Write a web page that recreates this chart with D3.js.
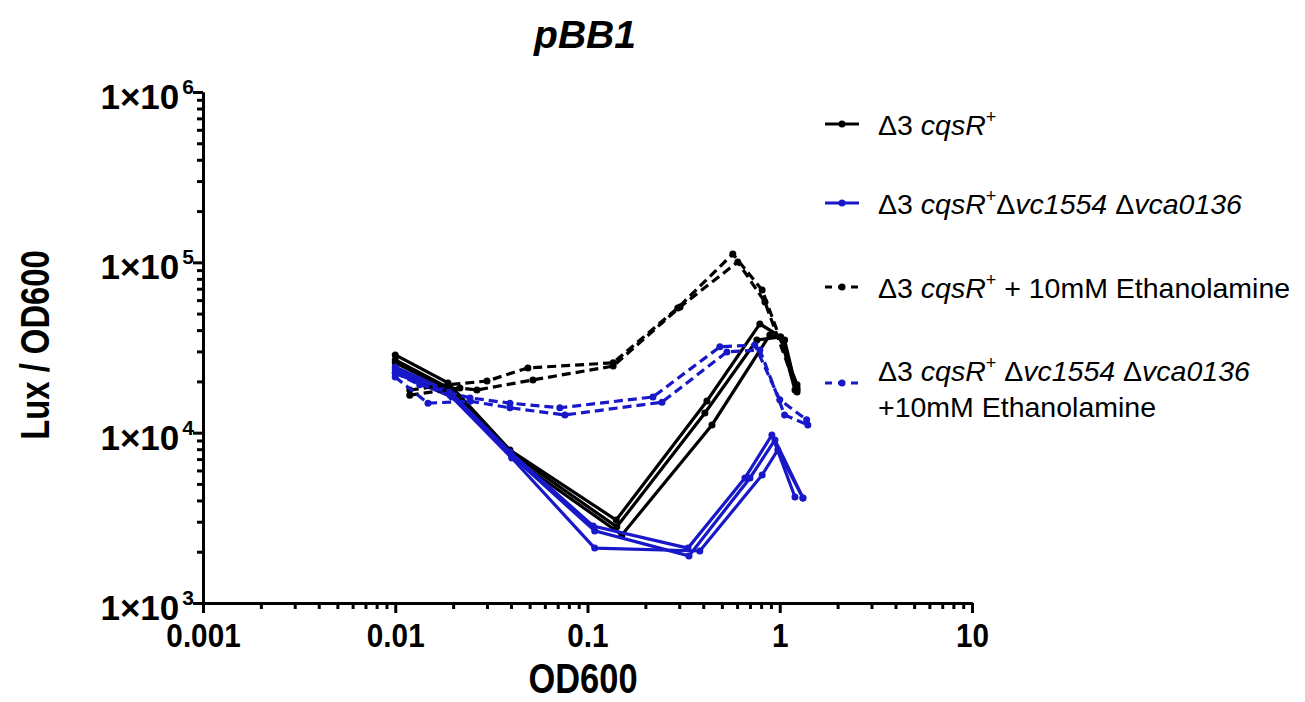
<!DOCTYPE html>
<html>
<head>
<meta charset="utf-8">
<title>pBB1</title>
<script src="https://cdn.jsdelivr.net/npm/d3@7"></script>
<style>
body { margin: 0; background: #fff; }
svg text { font-family: "Liberation Sans", Arial, sans-serif; fill: #000; }
</style>
</head>
<body>
<svg id="chart" width="1305" height="702"></svg>
<script>
// OD600 vs Lux/OD600, one array per replicate
const black1 = [[0.01, 28600], [0.0188, 19600], [0.0395, 7910], [0.141, 3070], [0.418, 15350], [0.788, 43500], [1.01, 36500], [1.23, 18300]];
const black2 = [[0.01, 26700], [0.0186, 18500], [0.0395, 7700], [0.142, 2800], [0.408, 13050], [0.76, 35000], [1.01, 36500], [1.2, 17800]];
const black3 = [[0.01, 25700], [0.0193, 17800], [0.0404, 7200], [0.151, 2510], [0.444, 11100], [0.888, 37500], [1.06, 35000], [1.23, 17300]];

const blue1 = [[0.01, 24300], [0.0193, 17300], [0.0395, 7700], [0.107, 2830], [0.333, 2100], [0.659, 5420], [0.91, 9690], [1.2, 4190]];
const blue2 = [[0.01, 23400], [0.0193, 16600], [0.0404, 7300], [0.109, 2650], [0.337, 1890], [0.70, 5420], [0.944, 9060], [1.32, 4140]];
const blue3 = [[0.01, 22400], [0.0197, 16200], [0.0404, 7100], [0.109, 2100], [0.384, 2020], [0.81, 5650], [0.977, 7910], [1.32, 4140]];

const blackEth1 = [[0.0119, 17800], [0.0188, 19100], [0.030, 20100], [0.049, 24000], [0.136, 25700], [0.295, 54000], [0.57, 112000], [0.81, 68800], [1.23, 19100]];
const blackEth2 = [[0.0119, 16600], [0.0217, 18300], [0.0266, 17800], [0.052, 20400], [0.136, 24600], [0.303, 54700], [0.605, 100500], [0.837, 58500], [1.23, 17800]];

const blueEth1 = [[0.01, 22400], [0.0134, 19100], [0.0245, 16000], [0.0395, 14900], [0.0718, 14000], [0.219, 16200], [0.488, 31900], [0.742, 32700], [1.0, 15600], [1.38, 11900]];
const blueEth2 = [[0.01, 21200], [0.0148, 14900], [0.0245, 15300], [0.0395, 14000], [0.0763, 12700], [0.244, 15100], [0.531, 29800], [0.788, 30600], [1.06, 12700], [1.40, 11100]];

const xTicks = [0.001, 0.01, 0.1, 1, 10];
const xTickLabels = ["0.001", "0.01", "0.1", "1", "10"];
const yTicks = [1e3, 1e4, 1e5, 1e6];
const yTickExp = ["3", "4", "5", "6"];

const BLUE = "#1818c8";

const groups = [
	{reps: [black1, black2, black3], color: "#000", dash: null},
	{reps: [blue1, blue2, blue3], color: BLUE, dash: null},
	{reps: [blackEth1, blackEth2], color: "#000", dash: "9,5"},
	{reps: [blueEth1, blueEth2], color: BLUE, dash: "9,5"}
];

const svg = d3.select("#chart");
const plotL = 203, plotR = 972, plotT = 92, plotB = 603;

const x = d3.scaleLog().domain([0.001, 10]).range([plotL, plotR]);
const y = d3.scaleLog().domain([1e3, 1e6]).range([plotB, plotT]);

// minor ticks (2..9 in each decade)
let minorX = [], minorY = [];
for (let d = 0.001; d < 10; d *= 10)
	for (let k = 2; k <= 9; k++) minorX.push(+(d * k).toPrecision(3));
for (let d = 1e3; d < 1e6; d *= 10)
	for (let k = 2; k <= 9; k++) minorY.push(d * k);

let styleAxis = g => {
	g.select(".domain").attr("stroke", "#000").attr("stroke-width", 3);
	g.selectAll(".tick line").attr("stroke", "#000").attr("stroke-width", 3);
};

svg.append("g")
	.attr("transform", "translate(0," + plotB + ")")
	.call(d3.axisBottom(x).tickValues(minorX).tickSize(6).tickFormat("").tickSizeOuter(0))
	.call(styleAxis);
const gx = svg.append("g")
	.attr("transform", "translate(0," + plotB + ")")
	.call(d3.axisBottom(x).tickValues(xTicks).tickSize(10).tickSizeOuter(0)
		.tickFormat((d, i) => xTickLabels[i]))
	.call(styleAxis);
gx.selectAll(".tick text")
	.attr("y", 44)
	.attr("dy", 0)
	.attr("transform", "scale(0.9,1)")
	.attr("font-size", 33)
	.attr("font-weight", "bold")
	.attr("font-family", "'Liberation Sans', Arial, sans-serif");

svg.append("g")
	.attr("transform", "translate(" + plotL + ",0)")
	.call(d3.axisLeft(y).tickValues(minorY).tickSize(6).tickFormat("").tickSizeOuter(0))
	.call(styleAxis);
svg.append("g")
	.attr("transform", "translate(" + plotL + ",0)")
	.call(d3.axisLeft(y).tickValues(yTicks).tickSize(10).tickFormat("").tickSizeOuter(0))
	.call(styleAxis);

// y labels as 1×10^n
yTicks.forEach((v, i) => {
	const t = svg.append("text")
		.attr("x", plotL - 9)
		.attr("y", y(v) + 17)
		.attr("text-anchor", "end")
		.attr("font-size", 35)
		.attr("font-weight", "bold");
	t.append("tspan").text("1\u00d710");
	t.append("tspan").attr("dx", 3).attr("dy", -15).attr("font-size", 21).text(yTickExp[i]);
});

// data
const line = d3.line().x(d => x(d[0])).y(d => y(d[1]));
const plot = svg.append("g");
groups.forEach(g => {
	g.reps.forEach(rep => {
		plot.append("path")
			.datum(rep)
			.attr("d", line)
			.attr("fill", "none")
			.attr("stroke", g.color)
			.attr("stroke-width", 3.2)
			.attr("stroke-dasharray", g.dash);
		plot.selectAll(null)
			.data(rep)
			.join("circle")
			.attr("cx", d => x(d[0]))
			.attr("cy", d => y(d[1]))
			.attr("r", 3.5)
			.attr("fill", g.color);
	});
});

// titles
svg.append("text")
	.attr("x", 585).attr("y", 48)
	.attr("text-anchor", "middle")
	.attr("font-size", 39).attr("font-weight", "bold").attr("font-style", "italic")
	.text("pBB1");
svg.append("text")
	.attr("transform", "translate(583,693) scale(0.82,1)")
	.attr("text-anchor", "middle")
	.attr("font-size", 42).attr("font-weight", "bold")
	.text("OD600");
svg.append("text")
	.attr("transform", "translate(49,345) rotate(-90) scale(0.8,1)")
	.attr("text-anchor", "middle")
	.attr("font-size", 41).attr("font-weight", "bold")
	.text("Lux / OD600");

// legend
const legendRows = [
	{color: "#000", dash: null, ly: 124, lines: [[["\u03943 ", ""], ["cqsR", "i"], ["+", "s"]]]},
	{color: BLUE, dash: null, ly: 203, lines: [[["\u03943 ", ""], ["cqsR", "i"], ["+", "s"], ["\u0394", ""], ["vc1554", "i"], [" \u0394", ""], ["vca0136", "i"]]]},
	{color: "#000", dash: "7,6", ly: 287, lines: [[["\u03943 ", ""], ["cqsR", "i"], ["+", "s"], [" + 10mM Ethanolamine", ""]]]},
	{color: BLUE, dash: "7,6", ly: 370, lines: [[["\u03943 ", ""], ["cqsR", "i"], ["+", "s"], [" \u0394", ""], ["vc1554", "i"], [" \u0394", ""], ["vca0136", "i"]], [["+10mM Ethanolamine", ""]]]}
];
const legend = svg.append("g");
legendRows.forEach(r => {
	const sy = r.lines.length > 1 ? r.ly + 13 : r.ly;
	legend.append("line")
		.attr("x1", 825).attr("x2", 859)
		.attr("y1", sy).attr("y2", sy)
		.attr("stroke", r.color).attr("stroke-width", 3)
		.attr("stroke-dasharray", r.dash);
	legend.append("circle")
		.attr("cx", 842).attr("cy", sy).attr("r", 3.5).attr("fill", r.color);
	r.lines.forEach((parts, li) => {
		const t = legend.append("text")
			.attr("x", 878).attr("y", r.ly + 11 + li * 36)
			.attr("font-size", 28.5);
		let raised = false;
		parts.forEach(p => {
			const ts = t.append("tspan").text(p[0]);
			if (p[1] === "i") ts.attr("font-style", "italic");
			if (p[1] === "s") { ts.attr("dy", -12).attr("font-size", 18); raised = true; }
			else if (raised) { ts.attr("dy", 12); raised = false; }
		});
	});
});
</script>
</body>
</html>
